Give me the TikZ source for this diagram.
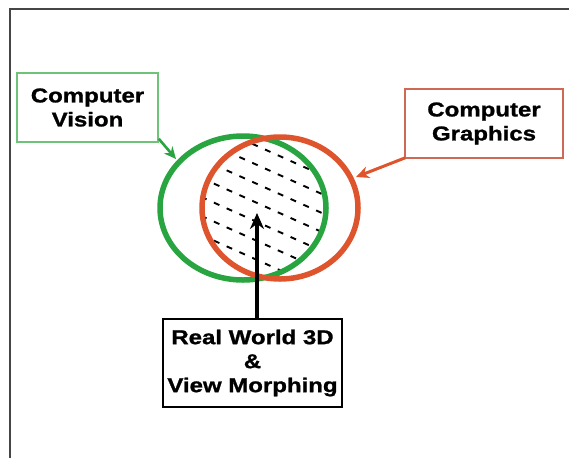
\documentclass[tikz,border=0pt]{standalone}
\usepackage{fontspec}
\newfontfamily\lab[FakeStretch=1.2,FakeBold=1.2]{Liberation Sans}
\usetikzlibrary{arrows.meta}
\definecolor{cvgreen}{RGB}{40,165,65}
\definecolor{cvbox}{RGB}{110,195,120}
\definecolor{cgred}{RGB}{222,85,45}
\definecolor{cgbox}{RGB}{205,105,85}
\definecolor{framegray}{RGB}{70,70,70}
\tikzset{
  labelbox/.style={draw, line width=1.6pt, align=center, inner sep=0pt,
    font=\lab\bfseries\fontsize{20}{24}\selectfont},
  hatchline/.style={draw=black, line width=1.9pt, dash pattern=on 6pt off 8pt},
}
\begin{document}
\begin{tikzpicture}[x=1pt,y=-1pt]
\useasboundingbox (0,0) rectangle (569,458);
\draw[framegray, line width=1.3pt] (569,9) -- (10,9) -- (10,458);

% boxes
\node[labelbox, draw=cvbox, minimum width=141pt, minimum height=69pt] (cv) at (87.5,107.5) {Computer\\Vision};
\node[labelbox, draw=cgbox, minimum width=158pt, minimum height=69pt] (cg) at (484,123.5) {Computer\\Graphics};
\node[labelbox, draw=black, line width=2pt, minimum width=179pt, minimum height=88pt] (rw) at (252.5,363) {Real World 3D\\\&\\View Morphing};

% hatching in intersection
\begin{scope}
  \clip (243,208) ellipse [x radius=83, y radius=72];
  \clip (280,208) ellipse [x radius=78, y radius=71];
  \foreach \k in {-7,...,7} {
    \draw[hatchline] (150,{205+19*\k-50}) -- (380,{205+19*\k+53});
  }
\end{scope}

% ellipses
\draw[cvgreen, line width=5.5pt] (243,208) ellipse [x radius=83, y radius=72];
\draw[cgred, line width=5.5pt] (280,208) ellipse [x radius=78, y radius=71];

\coordinate (cvtip) at (176,159);
\coordinate (cgtip) at (356,177);
\coordinate (rwtip) at (257,213);

\draw[cvgreen, line width=2.6pt, -{Stealth[length=12pt,width=11pt]}] (cv.south east) ++(0,-4) -- (cvtip);
\draw[cgred, line width=3pt, -{Stealth[length=13pt,width=12pt]}] (cg.south west) ++(1,-1) -- (cgtip);
\draw[black, line width=4pt, -{Stealth[length=16pt,width=14pt]}] (rw.north -| rwtip) -- (rwtip);
\end{tikzpicture}
\end{document}
